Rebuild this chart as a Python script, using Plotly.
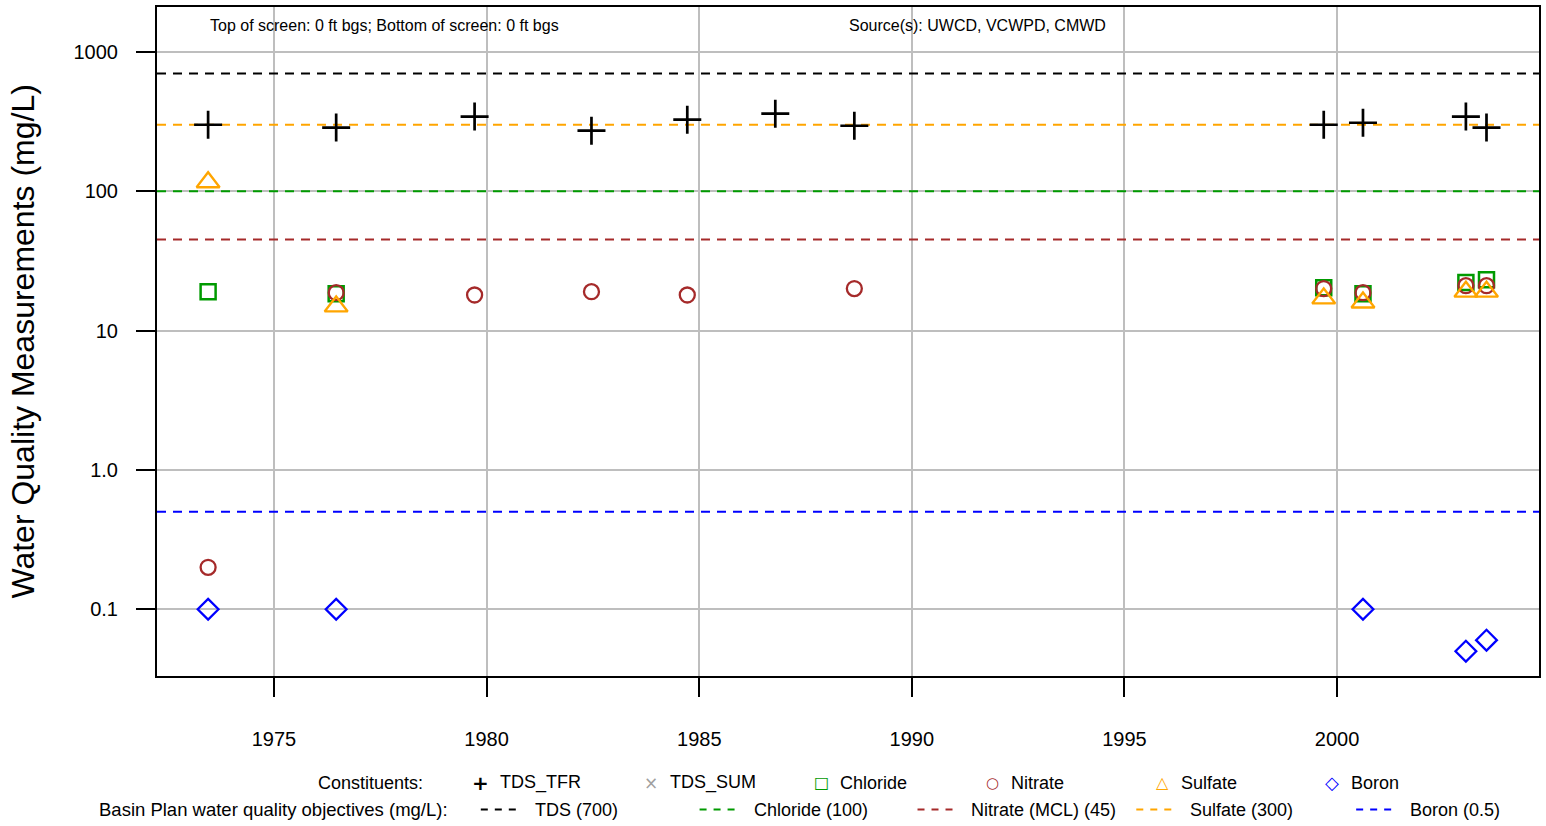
import plotly.graph_objects as go

# sample dates (from the chart)
dates = ['1973-06-14', '1976-06-18', '1979-09-20', '1982-06-20', '1984-09-20',
         '1986-10-16', '1988-08-25', '1999-09-09', '2000-08-11', '2003-01-12',
         '2003-07-08']

tds_tfr  = [300, 286, 343, 272, 326, 360, 295, 300, 310, 343, 286]
chloride = [19, 18.4, None, None, None, None, None, 20.3, 18.4, 22.1, 23.2]
nitrate  = [0.2, 18.7, 18, 19, 18, None, 20, 20, 18.7, 21, 21]
sulfate  = [116, 14.9, None, None, None, None, None, 17, 15.9, 19, 19]
boron    = [0.1, 0.1, None, None, None, None, None, None, 0.1, 0.05, 0.06]

obj_names  = ['TDS (700)', 'Chloride (100)', 'Nitrate (MCL) (45)', 'Sulfate (300)', 'Boron (0.5)']
obj_values = [700, 100, 45, 300, 0.5]
obj_colors = ['black', '#009A00', '#A52A2A', '#FFA500', '#0000FF']

x_range = ['1972-04-01', '2004-10-01']
font = 'Liberation Sans, Arial, sans-serif'

fig = go.Figure()

# objective lines
for name, val, col in zip(obj_names, obj_values, obj_colors):
    fig.add_trace(go.Scatter(x=x_range, y=[val, val], mode='lines', name=name,
                             line=dict(color=col, width=2, dash='9px,7px'),
                             showlegend=False, hoverinfo='skip'))

series = [
    ('TDS_TFR', tds_tfr, 'cross-thin-open', 'black', 20, 2.7),
    ('Chloride', chloride, 'square-open', '#009A00', 15, 2.5),
    ('Nitrate', nitrate, 'circle-open', '#A52A2A', 15, 2.3),
    ('Sulfate', sulfate, 'triangle-up-open', '#FFA500', 20, 2.3),
    ('Boron', boron, 'diamond-open', '#0000FF', 16, 2.3),
]
for name, vals, sym, col, size, lw in series:
    fig.add_trace(go.Scatter(x=dates, y=vals, mode='markers', name=name,
                             marker=dict(symbol=sym, color=col, size=size,
                                         line=dict(color=col, width=lw)),
                             showlegend=False))

fig.update_xaxes(type='date', range=x_range,
                 tickvals=['1975-01-01', '1980-01-01', '1985-01-01', '1990-01-01',
                           '1995-01-01', '2000-01-01'],
                 tickformat='%Y', ticks='outside', ticklen=19, tickwidth=2,
                 tickcolor='black', ticklabelstandoff=25,
                 showgrid=True, gridcolor='#BEBEBE', gridwidth=2,
                 showline=True, linecolor='black', linewidth=2, mirror=True,
                 zeroline=False, tickfont=dict(size=20, color='black', family=font))
fig.update_yaxes(type='log', range=[-1.479, 3.322],
                 tickvals=[0.1, 1, 10, 100, 1000],
                 ticktext=['0.1', '1.0', '10', '100', '1000'],
                 ticks='outside', ticklen=19, tickwidth=2, tickcolor='black',
                 ticklabelstandoff=14,
                 showgrid=True, gridcolor='#BEBEBE', gridwidth=2,
                 showline=True, linecolor='black', linewidth=2, mirror=True,
                 zeroline=False, tickfont=dict(size=20, color='black', family=font))

ann = []
ann.append(dict(text='Water Quality Measurements (mg/L)', textangle=-90,
                x=-0.0976, y=0.5, xref='paper', yref='paper',
                xanchor='center', yanchor='middle', showarrow=False,
                font=dict(size=32, color='black', family=font)))
ann.append(dict(text='Top of screen: 0 ft bgs; Bottom of screen: 0 ft bgs',
                x=0.0369, y=0.9717, xref='paper', yref='paper', xanchor='left',
                yanchor='middle', showarrow=False,
                font=dict(size=16, color='black', family=font)))
ann.append(dict(text='Source(s): UWCD, VCWPD, CMWD',
                x=0.4996, y=0.9717, xref='paper', yref='paper', xanchor='left',
                yanchor='middle', showarrow=False,
                font=dict(size=16, color='black', family=font)))

# custom legend
row1, row2 = -0.1595, -0.1997
ann.append(dict(text='Constituents:', x=0.1938, y=row1, xref='paper', yref='paper',
                xanchor='right', yanchor='middle', showarrow=False,
                font=dict(size=18, color='black', family=font)))
ann.append(dict(text='Basin Plan water quality objectives (mg/L):', x=0.2119, y=row2,
                xref='paper', yref='paper', xanchor='right', yanchor='middle',
                showarrow=False, font=dict(size=18.5, color='black', family=font)))

leg1_names = ['TDS_TFR', 'TDS_SUM', 'Chloride', 'Nitrate', 'Sulfate', 'Boron']
leg1_syms = ['<b>+</b>', '×', '<b>□</b>', '<b>○</b>', '<b>△</b>', '<b>◇</b>']
leg1_size = [20, 17, 16, 15, 16, 18]
leg1_cols = ['black', '#A0A0A0', '#009A00', '#A52A2A', '#FFA500', '#0000FF']
leg1_sx = [0.2343, 0.3572, 0.4808, 0.6045, 0.7274, 0.8503]
for nm, s, sz, c, sx in zip(leg1_names, leg1_syms, leg1_size, leg1_cols, leg1_sx):
    ann.append(dict(text=s, x=sx, y=row1, xref='paper', yref='paper',
                    xanchor='center', yanchor='middle', showarrow=False,
                    font=dict(size=sz, color=c, family='DejaVu Sans')))
    ann.append(dict(text=nm, x=sx + 0.0123, y=row1, xref='paper', yref='paper',
                    xanchor='left', yanchor='middle', showarrow=False,
                    font=dict(size=18, color='black', family=font)))

leg2_x0 = [0.2343, 0.3926, 0.5503, 0.7086, 0.8677]
shapes = []
for nm, c, x0 in zip(obj_names, obj_colors, leg2_x0):
    shapes.append(dict(type='line', xref='paper', yref='paper', x0=x0, x1=x0 + 0.028,
                       y0=row2, y1=row2, line=dict(color=c, width=2, dash='7px,7px')))
    ann.append(dict(text=nm, x=x0 + 0.0376, y=row2, xref='paper', yref='paper',
                    xanchor='left', yanchor='middle', showarrow=False,
                    font=dict(size=18, color='black', family=font)))

fig.update_layout(width=1546, height=826,
                  margin=dict(l=157, r=6, t=5, b=150),
                  paper_bgcolor='white', plot_bgcolor='white',
                  annotations=ann, shapes=shapes, showlegend=False,
                  font=dict(family=font))

# drop the default page margin so the figure sits at the window's corner
fig.write_html('out.html', config={'displayModeBar': False},
               post_script="document.body.style.margin = '0';")
